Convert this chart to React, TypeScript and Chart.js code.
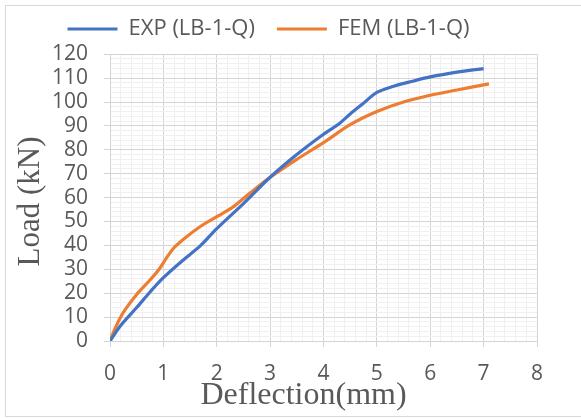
import React, { useEffect, useRef } from "react";
import { Chart, registerables } from "chart.js";

Chart.register(...registerables);

const expX = [0, 0.2, 0.5, 0.75, 1.0, 1.35, 1.7, 2.0, 2.5, 3.0, 3.5, 4.0, 4.3, 4.5, 4.75, 5.0, 5.3, 5.6, 6.0, 6.5, 7.0];
const expY = [0, 6.5, 14, 20.5, 26.5, 33.5, 40, 47, 57.5, 68.5, 78, 86.5, 91, 95, 99.5, 104, 106.5, 108.3, 110.5, 112.5, 114];
const femX = [0, 0.1, 0.25, 0.5, 0.75, 0.92, 1.05, 1.2, 1.4, 1.7, 2.0, 2.3, 2.6, 3.0, 3.5, 4.0, 4.5, 5.0, 5.5, 6.0, 6.5, 7.1];
const femY = [0, 5.5, 12, 19.5, 25.5, 30, 34.5, 39, 43, 48, 52, 56, 61.5, 68.5, 76, 83, 90.5, 96, 100, 102.8, 105, 107.6];

const seriesNames = ["EXP (LB-1-Q)", "FEM (LB-1-Q)"];
const xTitle = "Deflection(mm)";
const yTitle = "Load (kN)";

const xMin = 0, xMax = 8, xMajor = 1, xMinor = 0.2;
const yMin = 0, yMax = 120, yMajor = 10, yMinor = 2;

const isMajor = (v: number, step: number) => Math.abs(v / step - Math.round(v / step)) < 1e-6;

export default function App() {
  const ref = useRef<HTMLCanvasElement | null>(null);
  useEffect(() => {
    document.body.style.margin = "0";
    const canvas = ref.current;
    if (!canvas) return;
    const frame = {
      id: "frame",
      beforeDraw(chart: any) {
        const ctx = chart.ctx;
        ctx.save();
        ctx.strokeStyle = "#d9d9d9";
        ctx.lineWidth = 1;
        ctx.strokeRect(5.5, 5.5, 620, 411);
        ctx.restore();
      },
    };
    const chart = new Chart(canvas, {
      type: "scatter",
      data: {
        datasets: [
          {
            label: seriesNames[0],
            data: expX.map((x, i) => ({ x, y: expY[i] })),
            borderColor: "#4472C4",
            backgroundColor: "#4472C4",
            borderWidth: 3.2,
            showLine: true,
            pointRadius: 0,
            tension: 0.3,
          },
          {
            label: seriesNames[1],
            data: femX.map((x, i) => ({ x, y: femY[i] })),
            borderColor: "#ED7D31",
            backgroundColor: "#ED7D31",
            borderWidth: 3.2,
            showLine: true,
            pointRadius: 0,
            tension: 0.3,
          },
        ],
      },
      options: {
        responsive: false,
        animation: false,
        layout: { padding: { top: -4, right: 44, left: 0, bottom: 0 } },
        font: { family: "'Open Sans'" },
        plugins: {
          tooltip: { enabled: false },
          title: {
            display: true,
            text: "",
            weight: 500,
            position: "top",
            font: { size: 1 },
            padding: { top: 3, bottom: 0 },
          },
          legend: {
            position: "top",
            labels: {
              usePointStyle: true,
              pointStyle: "line",
              pointStyleWidth: 50,
              padding: 22,
              color: "#595959",
              font: { family: "'Open Sans'", size: 22 },
            },
          },
        },
        scales: {
          x: {
            type: "linear",
            min: xMin,
            max: xMax,
            afterFit: (s: any) => { s.height = 77; },
            ticks: {
              stepSize: xMinor,
              autoSkip: false,
              maxRotation: 0,
              padding: 14,
              color: "#595959",
              font: { family: "'Open Sans'", size: 21 },
              callback: (v: any) => (isMajor(Number(v), xMajor) ? String(Math.round(Number(v))) : ""),
            },
            grid: {
              tickLength: 6,
              color: (c: any) => (isMajor(c.tick.value, xMajor) ? "#d4d4d4" : "#f0f0f0"),
              tickColor: (c: any) => (isMajor(c.tick.value, xMajor) ? "#d4d4d4" : "rgba(0,0,0,0)"),
            },
            border: { display: true, color: "#d4d4d4" },
            title: {
              display: true,
              text: xTitle + "     ",
              color: "#595959",
              padding: { top: 0, bottom: 3 },
              font: { family: "'Liberation Serif'", size: 32 },
            },
          },
          y: {
            type: "linear",
            min: yMin,
            max: yMax,
            afterFit: (s: any) => { s.width = 110; },
            ticks: {
              stepSize: yMinor,
              autoSkip: false,
              padding: 16,
              color: "#595959",
              font: { family: "'Open Sans'", size: 21 },
              callback: (v: any) => (isMajor(Number(v), yMajor) ? String(Math.round(Number(v))) : ""),
            },
            grid: {
              tickLength: 6,
              color: (c: any) => (isMajor(c.tick.value, yMajor) ? "#d4d4d4" : "#f0f0f0"),
              tickColor: (c: any) => (isMajor(c.tick.value, yMajor) ? "#d4d4d4" : "rgba(0,0,0,0)"),
            },
            border: { display: true, color: "#d4d4d4" },
            title: {
              display: true,
              text: yTitle + " ",
              color: "#595959",
              padding: { top: 12, bottom: 0 },
              font: { family: "'Liberation Serif'", size: 31 },
            },
          },
        },
      },
      plugins: [frame],
    } as any);
    return () => chart.destroy();
  }, []);
  return (
    <div style={{ width: 581, height: 418, background: "#fff" }}>
      <canvas ref={ref} width={581} height={418} />
    </div>
  );
}
